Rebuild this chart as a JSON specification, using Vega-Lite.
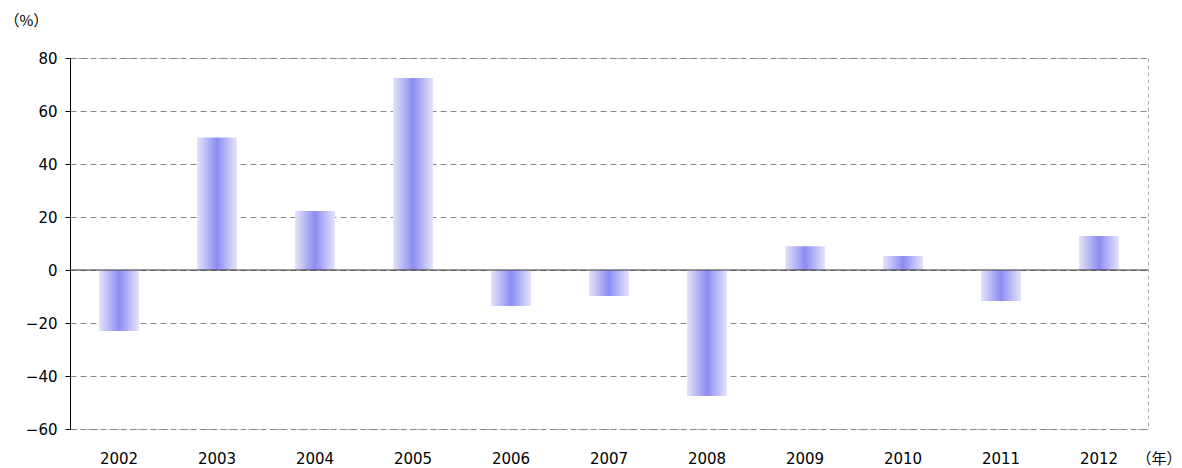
{
  "$schema": "https://vega.github.io/schema/vega-lite/v6.json",
  "width": 1078,
  "height": 371,
  "autosize": "none",
  "padding": {"left": 70, "top": 58, "right": 34, "bottom": 39},
  "background": "white",
  "config": {
    "font": "DejaVu Sans",
    "view": {"stroke": "#aaaaaa", "strokeDash": [4, 3]}
  },
  "data": {
    "values": [
      {"year": "2002", "value": -23},
      {"year": "2003", "value": 50},
      {"year": "2004", "value": 22.3},
      {"year": "2005", "value": 72.5},
      {"year": "2006", "value": -13.6},
      {"year": "2007", "value": -9.8},
      {"year": "2008", "value": -47.5},
      {"year": "2009", "value": 9},
      {"year": "2010", "value": 5.3},
      {"year": "2011", "value": -11.7},
      {"year": "2012", "value": 12.8}
    ]
  },
  "layer": [
    {
      "mark": {
        "type": "bar",
        "width": 40,
        "color": {
          "gradient": "linear",
          "x1": 0, "x2": 1, "y1": 0, "y2": 0,
          "stops": [
            {"offset": 0, "color": "#e4e4fb"},
            {"offset": 0.5, "color": "#8c8cf2"},
            {"offset": 1, "color": "#e4e4fb"}
          ]
        }
      },
      "encoding": {
        "x": {
          "field": "year", "type": "ordinal",
          "scale": {"paddingInner": 0, "paddingOuter": 0},
          "axis": {
            "labelAngle": 0, "labelFontSize": 15, "labelColor": "#000",
            "domain": false, "ticks": false, "labelPadding": 22,
            "title": "（年）", "titleFont": "Noto Sans CJK JP", "titleFontSize": 15, "titleFontWeight": "normal",
            "titleX": 1066, "titleY": 22, "titleAlign": "left", "titleBaseline": "top"
          }
        },
        "y": {
          "field": "value", "type": "quantitative",
          "scale": {"domain": [-60, 80]},
          "axis": {
            "values": [-60, -40, -20, 0, 20, 40, 60, 80],
            "labelFontSize": 15, "labelColor": "#000", "labelPadding": 8,
            "domainColor": "#000", "tickColor": "#000", "tickSize": 5,
            "gridDash": [6, 4], "gridColor": "#888",
            "title": "（%）", "titleFont": "Noto Sans CJK JP", "titleAngle": 0, "titleFontSize": 15,
            "titleFontWeight": "normal", "titleX": -66, "titleY": -30,
            "titleAlign": "left"
          }
        }
      }
    },
    {
      "data": {"values": [{"z": 0}]},
      "mark": {"type": "rule", "color": "#333", "strokeWidth": 1},
      "encoding": {"y": {"field": "z", "type": "quantitative"}}
    }
  ]
}
